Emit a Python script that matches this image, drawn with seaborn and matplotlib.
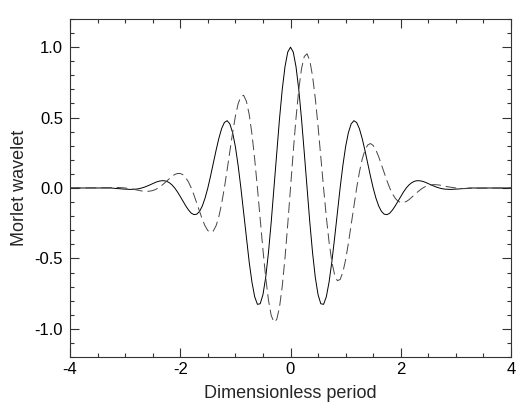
import numpy as np
import pandas as pd
import matplotlib
matplotlib.use("Agg")
import matplotlib.pyplot as plt
from matplotlib.ticker import MultipleLocator, FixedLocator
import seaborn as sns

# sampling grid of the curves (step 0.05 between -3.3 and 3.3, flat ends at +/-4)
x_inner = np.round(np.linspace(-3.3, 3.3, 133), 2)
x_vals = np.concatenate([[-4.0], x_inner, [4.0]])

# real part (solid line)
real_part = [
    0.000,
    0.000, 0.000, -0.002, -0.004, -0.005, -0.007, -0.008,
    -0.009, -0.010, -0.009, -0.008, -0.005, 0.000, 0.006, 0.014, 0.022, 0.031,
    0.040, 0.047, 0.051, 0.052, 0.048, 0.038, 0.022, 0.000, -0.028, -0.060,
    -0.094, -0.127, -0.156, -0.179, -0.189, -0.186, -0.166, -0.128, -0.072, 0.000,
    0.085, 0.176, 0.268, 0.352, 0.421, 0.465, 0.478, 0.455, 0.393, 0.294,
    0.160, 0.000, -0.176, -0.356, -0.524, -0.667, -0.772, -0.826, -0.822, -0.758,
    -0.635, -0.459, -0.242, 0.000, 0.250, 0.489, 0.699, 0.861, 0.965,
    1.000,
    0.965, 0.861, 0.699, 0.489, 0.250, 0.000, -0.242, -0.459, -0.635,
    -0.758, -0.822, -0.826, -0.772, -0.667, -0.524, -0.356, -0.176, 0.000, 0.160,
    0.294, 0.393, 0.455, 0.478, 0.465, 0.421, 0.352, 0.268, 0.176, 0.085,
    0.000, -0.072, -0.128, -0.166, -0.186, -0.189, -0.179, -0.156, -0.127, -0.094,
    -0.060, -0.028, 0.000, 0.022, 0.038, 0.048, 0.052, 0.051, 0.047, 0.040,
    0.031, 0.022, 0.014, 0.006, 0.000, -0.005, -0.008, -0.009, -0.010, -0.009,
    -0.008, -0.007, -0.005, -0.004, -0.002, 0.000, 0.000,
    0.000,
]

# imaginary part (dashed line)
imag_part = [
    0.000,
    0.002, 0.003, 0.004, 0.004, 0.003, 0.002, 0.000,
    -0.003, -0.006, -0.009, -0.013, -0.017, -0.021, -0.023, -0.024, -0.022, -0.018,
    -0.011, 0.000, 0.014, 0.030, 0.048, 0.066, 0.083, 0.096, 0.103, 0.103,
    0.094, 0.073, 0.042, 0.000, -0.051, -0.108, -0.166, -0.222, -0.269, -0.302,
    -0.316, -0.305, -0.268, -0.204, -0.113, 0.000, 0.128, 0.263, 0.393, 0.509,
    0.598, 0.650, 0.658, 0.616, 0.524, 0.385, 0.207, 0.000, -0.220, -0.438,
    -0.635, -0.795, -0.905, -0.953, -0.934, -0.848, -0.699, -0.497, -0.258,
    0.000,
    0.258, 0.497, 0.699, 0.848, 0.934, 0.953, 0.905, 0.795, 0.635,
    0.438, 0.220, 0.000, -0.207, -0.385, -0.524, -0.616, -0.658, -0.650, -0.598,
    -0.509, -0.393, -0.263, -0.128, 0.000, 0.113, 0.204, 0.268, 0.305, 0.316,
    0.302, 0.269, 0.222, 0.166, 0.108, 0.051, 0.000, -0.042, -0.073, -0.094,
    -0.103, -0.103, -0.096, -0.083, -0.066, -0.048, -0.030, -0.014, 0.000, 0.011,
    0.018, 0.022, 0.024, 0.023, 0.021, 0.017, 0.013, 0.009, 0.006, 0.003,
    0.000, -0.002, -0.003, -0.004, -0.004, -0.003, -0.002,
    0.000,
]

x_ticks = [-4, -2, 0, 2, 4]
x_tick_labels = ["-4", "-2", "0", "2", "4"]
y_ticks = [-1.0, -0.5, 0.0, 0.5, 1.0]
y_tick_labels = ["-1.0", "-0.5", "0.0", "0.5", "1.0"]

df = pd.DataFrame({"x": x_vals, "real": real_part, "imag": imag_part})

sns.set_style("ticks", {
    "xtick.direction": "in", "ytick.direction": "in",
    "axes.edgecolor": "#333333",
})
plt.rcParams["font.family"] = ["Liberation Sans", "DejaVu Sans"]

fig = plt.figure(figsize=(5.28, 4.16), dpi=100)
ax = fig.add_axes([70 / 528, 1 - 357 / 416, 441 / 528, 338 / 416])

sns.lineplot(data=df, x="x", y="real", ax=ax, color="black", lw=0.7,
             estimator=None, sort=False)
sns.lineplot(data=df, x="x", y="imag", ax=ax, color="#444444", lw=0.7,
             estimator=None, sort=False, linestyle=(0, (11, 5)))

ax.set_xlim(-4, 4)
ax.set_ylim(-1.2, 1.2)
ax.xaxis.set_major_locator(FixedLocator(x_ticks))
ax.set_xticklabels(x_tick_labels)
ax.yaxis.set_major_locator(FixedLocator(y_ticks))
ax.set_yticklabels(y_tick_labels)
ax.xaxis.set_minor_locator(MultipleLocator(0.5))
ax.yaxis.set_minor_locator(MultipleLocator(0.1))
ax.tick_params(which="both", direction="in", top=True, right=True,
               color="#333333", width=0.8, labelsize=12, labelcolor="black")
ax.tick_params(which="major", length=6.5)
ax.tick_params(which="minor", length=3)
ax.tick_params(axis="x", which="major", pad=3.5)
ax.tick_params(axis="y", which="major", pad=5)
for s in ax.spines.values():
    s.set_linewidth(0.8)

ax.set_xlabel("Dimensionless period", fontsize=13, labelpad=6)
ax.set_ylabel("Morlet wavelet", fontsize=13, labelpad=5)

fig.savefig("out.png", dpi=100)
